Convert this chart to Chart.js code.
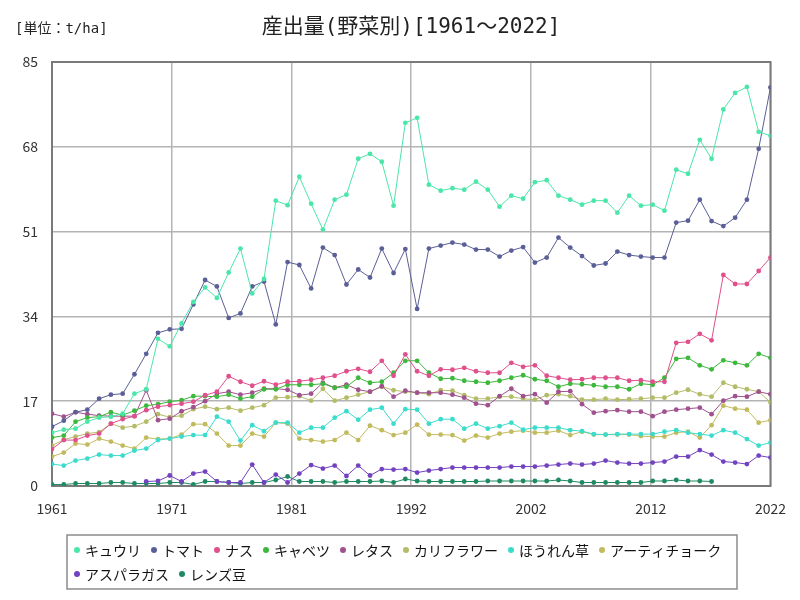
<!DOCTYPE html>
<html>
<head>
<meta charset="utf-8">
<script src="https://cdn.jsdelivr.net/npm/chart.js@4.4.1/dist/chart.umd.min.js"></script>
<style>
  body { margin: 0; background: #fff; }
  #wrap { width: 800px; height: 600px; }
</style>
</head>
<body>
<div id="wrap"><canvas id="chart" width="800" height="600"></canvas></div>
<script>
const titleText = '産出量(野菜別)[1961～2022]';
const unitText = '[単位：t/ha]';

const years = [1961, 1962, 1963, 1964, 1965, 1966, 1967, 1968, 1969, 1970,
  1971, 1972, 1973, 1974, 1975, 1976, 1977, 1978, 1979, 1980,
  1981, 1982, 1983, 1984, 1985, 1986, 1987, 1988, 1989, 1990,
  1991, 1992, 1993, 1994, 1995, 1996, 1997, 1998, 1999, 2000,
  2001, 2002, 2003, 2004, 2005, 2006, 2007, 2008, 2009, 2010,
  2011, 2012, 2013, 2014, 2015, 2016, 2017, 2018, 2019, 2020,
  2021, 2022];
const xTickLabels = ['1961', '1971', '1981', '1992', '2002', '2012', '2022'];
const yTicks = [0, 17, 34, 51, 68, 85];

const seriesNames = ['キュウリ', 'トマト', 'ナス', 'キャベツ', 'レタス', 'カリフラワー', 'ほうれん草', 'アーティチョーク', 'アスパラガス', 'レンズ豆'];

const cucumber = [10.7, 11.3, 11.5, 12.9, 13.7, 13.9, 14.5, 18.5, 19.4, 29.5, 28.0,
  32.6, 36.9, 39.8, 37.7, 42.8, 47.6, 38.6, 41.5, 57.2, 56.3,
  62.0, 56.6, 51.4, 57.4, 58.4, 65.6, 66.6, 65.0, 56.2, 72.8, 73.8, 60.4, 59.2, 59.7, 59.4, 61.0, 59.4, 56.0, 58.2, 57.6, 60.9,
  61.3, 58.2, 57.4, 56.4, 57.2, 57.2, 54.8, 58.2, 56.2, 56.4, 55.2, 63.4, 62.6, 69.4, 65.6, 75.5, 78.8, 80.0, 71.0, 70.2];
const tomato = [11.9, 13.1, 14.8, 15.3, 17.5, 18.3, 18.5, 22.4, 26.5, 30.7, 31.4,
  31.5, 36.4, 41.3, 40.0, 33.7, 34.6, 40.0, 41.0, 32.4, 44.9,
  44.3, 39.6, 47.8, 46.3, 40.4, 43.4, 41.8, 47.6, 42.7, 47.5, 35.5, 47.6, 48.2, 48.8, 48.4, 47.4, 47.4, 46.0, 47.2, 47.9, 44.8,
  45.8, 49.8, 47.8, 46.1, 44.2, 44.6, 47.0, 46.3, 46.0, 45.8, 45.8, 52.8, 53.2, 57.4, 53.1, 52.1, 53.8, 57.4, 67.6, 79.9];
const eggplant = [7.4, 9.2, 9.2, 10.1, 10.5, 12.5, 13.4, 14.0, 15.2, 15.9, 16.2,
  16.5, 16.9, 18.2, 18.9, 22.0, 20.9, 20.1, 21.0, 20.3, 20.9,
  21.0, 21.3, 21.7, 22.1, 23.0, 23.5, 22.9, 25.1, 22.1, 26.4,
  23.0, 22.1, 23.4, 23.3, 23.7, 23.0, 22.7, 22.7, 24.7, 23.9,
  24.2, 22.1, 21.7, 21.3, 21.4, 21.7, 21.7, 21.7, 21.1, 21.2,
  20.9, 20.9, 28.7, 28.9, 30.5, 29.2, 42.3, 40.5, 40.5, 43.1, 45.8];
const cabbage = [9.7, 10.1, 12.9, 13.7, 13.9, 14.8, 14.2, 15.1, 16.1, 16.4, 16.9,
  17.2, 18.0, 18.0, 17.9, 18.3, 17.5, 17.9, 19.4, 19.4, 20.3,
  20.3, 20.3, 20.5, 19.7, 19.9, 21.7, 20.7, 20.9, 22.7, 25.1,
  25.1, 22.7, 21.5, 21.6, 21.1, 20.9, 20.7, 21.1, 21.7, 22.2,
  21.4, 21.1, 19.9, 20.5, 20.4, 20.2, 19.9, 19.9, 19.4, 20.5,
  20.3, 21.7, 25.5, 25.7, 24.2, 23.4, 25.2, 24.7, 24.2, 26.5, 25.7];
const lettuce = [14.5, 13.9, 14.8, 14.4, 14.1, 14.0, 14.0, 14.0, 19.2, 13.2, 13.5,
  15.0, 15.8, 17.0, 18.5, 18.9, 18.3, 18.7, 19.5, 19.5, 19.3,
  18.2, 18.5, 20.7, 19.7, 20.3, 19.3, 18.9, 20.0, 17.9, 19.1,
  18.7, 18.7, 18.7, 18.3, 17.7, 16.5, 16.2, 18.0, 19.5, 18.0,
  18.4, 16.7, 18.9, 19.0, 16.4, 14.7, 15.0, 15.2, 14.9, 14.9,
  14.0, 14.9, 15.3, 15.5, 15.7, 14.4, 17.1, 18.0, 17.9, 18.9, 18.4];
const cauliflower = [8.1, 9.3, 9.9, 10.5, 10.8, 12.5, 11.7, 12.0, 12.9, 14.4, 13.8,
  14.1, 15.4, 15.9, 15.4, 15.7, 15.1, 15.7, 16.2, 17.7, 17.8,
  18.0, 17.1, 19.5, 17.1, 17.7, 18.3, 18.9, 19.9, 19.2, 18.9,
  18.7, 18.4, 19.2, 19.1, 18.2, 17.5, 17.5, 17.9, 17.9, 17.5,
  17.3, 18.2, 18.4, 18.0, 17.3, 17.3, 17.5, 17.3, 17.4, 17.5,
  17.7, 17.7, 18.7, 19.3, 18.4, 17.9, 20.7, 19.9, 19.4, 18.9, 16.8];
const spinach = [4.4, 4.1, 5.1, 5.5, 6.3, 6.1, 6.1, 7.1, 7.5, 9.2, 9.5,
  9.9, 10.2, 10.2, 13.9, 12.9, 9.1, 12.2, 11.0, 12.7, 12.7,
  10.7, 11.7, 11.7, 13.7, 15.0, 13.3, 15.3, 15.7, 12.5, 15.4,
  15.3, 12.5, 13.4, 13.4, 11.5, 12.5, 11.5, 12.0, 12.7, 11.3,
  11.7, 11.7, 11.7, 11.2, 11.0, 10.4, 10.3, 10.4, 10.4, 10.4,
  10.4, 10.9, 11.2, 10.7, 10.4, 10.1, 11.2, 10.7, 9.4, 8.1, 8.7];
const artichoke = [5.9, 6.7, 8.5, 8.3, 9.5, 8.9, 8.1, 7.5, 9.7, 9.4, 9.5,
  10.3, 12.4, 12.4, 10.5, 8.1, 8.1, 10.5, 9.9, 12.7, 12.5,
  9.5, 9.2, 8.9, 9.2, 10.7, 9.2, 12.1, 11.2, 10.2, 10.7,
  12.3, 10.3, 10.3, 10.2, 9.1, 10.1, 9.7, 10.5, 10.9, 11.1,
  10.7, 10.7, 11.1, 10.2, 10.9, 10.3, 10.3, 10.3, 10.3, 10.0,
  9.9, 9.9, 10.7, 10.9, 9.7, 12.2, 16.1, 15.5, 15.3, 12.7, 13.2];
const asparagus = [null, null, null, null, null, null, null, null, 0.9, 1.0, 2.1,
  0.9, 2.5, 2.9, 0.9, 0.7, 0.7, 4.3, 0.7, 2.3, 0.7,
  2.5, 4.2, 3.5, 4.1, 2.0, 4.1, 2.1, 3.4, 3.3, 3.4,
  2.7, 3.1, 3.4, 3.7, 3.7, 3.7, 3.7, 3.7, 3.9, 3.9,
  3.9, 4.1, 4.3, 4.5, 4.3, 4.5, 5.1, 4.7, 4.5, 4.5,
  4.7, 4.9, 5.9, 5.9, 7.2, 6.3, 4.9, 4.7, 4.4, 6.1, 5.7];
const lentils = [0.3, 0.3, 0.5, 0.5, 0.5, 0.7, 0.7, 0.5, 0.5, 0.5, 0.7,
  0.7, 0.3, 0.9, 0.9, 0.7, 0.5, 0.7, 0.7, 1.2, 1.9,
  0.9, 0.9, 0.9, 0.7, 0.9, 0.9, 0.9, 1.0, 0.7, 1.4,
  1.0, 0.9, 0.9, 0.9, 0.9, 0.9, 1.0, 1.0, 1.0, 1.0,
  1.0, 1.0, 1.2, 1.0, 0.7, 0.7, 0.7, 0.7, 0.7, 0.7,
  1.0, 1.0, 1.2, 1.0, 1.0, 0.9, null, null, null, null, null];

const seriesValues = [cucumber, tomato, eggplant, cabbage, lettuce, cauliflower, spinach, artichoke, asparagus, lentils];
const seriesColors = ['#4be6aa', '#5b5f97', '#e0508c', '#3cb83c', '#a0528e', '#b4bc68', '#3cdccc', '#c2bb5e', '#7242c0', '#1f8a62'];

const FONT = '"Noto Sans CJK JP", "Noto Sans", sans-serif';
const MONO = '"DejaVu Sans Mono", "Noto Sans CJK JP", monospace';

// frame, titles and the boxed legend are drawn by hand
const decorations = {
    id: 'decorations',
    beforeDatasetsDraw(chart) {
        const { ctx, chartArea: a } = chart;
        ctx.save();
        ctx.strokeStyle = '#7a7a7a';
        ctx.lineWidth = 2;
        ctx.strokeRect(a.left, a.top, a.right - a.left, a.bottom - a.top);
        ctx.restore();
    },
    afterDraw(chart) {
        const ctx = chart.ctx;
        ctx.save();
        ctx.fillStyle = '#222';
        ctx.textBaseline = 'middle';
        ctx.textAlign = 'center';
        ctx.font = '21px ' + MONO;
        ctx.fillText(titleText, 411, 28);
        ctx.textAlign = 'left';
        ctx.font = '14px ' + MONO;
        ctx.fillText(unitText, 15, 29);

        const box = { x: 67, y: 535, w: 670, h: 54 };
        ctx.strokeStyle = '#8c8c8c';
        ctx.lineWidth = 1.5;
        ctx.strokeRect(box.x, box.y, box.w, box.h);

        ctx.font = '14px ' + FONT;
        let x = 77, y = 550;
        chart.data.datasets.forEach(ds => {
            const w = 8 + ctx.measureText(ds.label).width;
            if (x + w > box.x + box.w) { x = 77; y += 24; }
            ctx.fillStyle = ds.borderColor;
            ctx.beginPath();
            ctx.arc(x, y, 3, 0, Math.PI * 2);
            ctx.fill();
            ctx.fillStyle = '#111';
            ctx.fillText(ds.label, x + 8, y + 1);
            x += w + 13;
        });
        ctx.restore();
    }
};

const datasets = seriesNames.map((name, i) => ({
    label: name,
    data: seriesValues[i],
    borderColor: seriesColors[i],
    backgroundColor: seriesColors[i],
    borderWidth: 1,
    pointRadius: 2.4,
    pointBorderWidth: 0,
    pointBackgroundColor: seriesColors[i],
    tension: 0,
    fill: false,
    spanGaps: false
}));

new Chart(document.getElementById('chart').getContext('2d'), {
    type: 'line',
    data: { labels: years, datasets: datasets },
    options: {
        responsive: false,
        animation: false,
        layout: { padding: { left: 0, right: 28, top: 62, bottom: 84 } },
        plugins: {
            legend: { display: false },
            title: { display: false },
            tooltip: { enabled: false }
        },
        scales: {
            x: {
                type: 'linear',
                min: years[0],
                max: years[years.length - 1],
                afterBuildTicks: (scale) => {
                    const step = (scale.max - scale.min) / (xTickLabels.length - 1);
                    scale.ticks = xTickLabels.map((t, k) => ({ value: scale.min + k * step }));
                },
                afterFit: (scale) => { scale.height = 30; },
                grid: { color: '#b4b4b4', lineWidth: 1.5, drawTicks: false },
                border: { display: false },
                ticks: {
                    padding: 14,
                    color: '#333',
                    font: { family: FONT, size: 14 },
                    maxRotation: 0,
                    autoSkip: false,
                    callback: (v, idx) => xTickLabels[idx]
                }
            },
            y: {
                min: yTicks[0],
                max: yTicks[yTicks.length - 1],
                afterBuildTicks: (scale) => {
                    scale.ticks = yTicks.map(v => ({ value: v }));
                },
                afterFit: (scale) => { scale.width = 52; },
                grid: { color: '#b4b4b4', lineWidth: 1.5, drawTicks: false },
                border: { display: false },
                ticks: {
                    padding: 14,
                    color: '#333',
                    font: { family: FONT, size: 14 }
                }
            }
        }
    },
    plugins: [decorations]
});
</script>
</body>
</html>
